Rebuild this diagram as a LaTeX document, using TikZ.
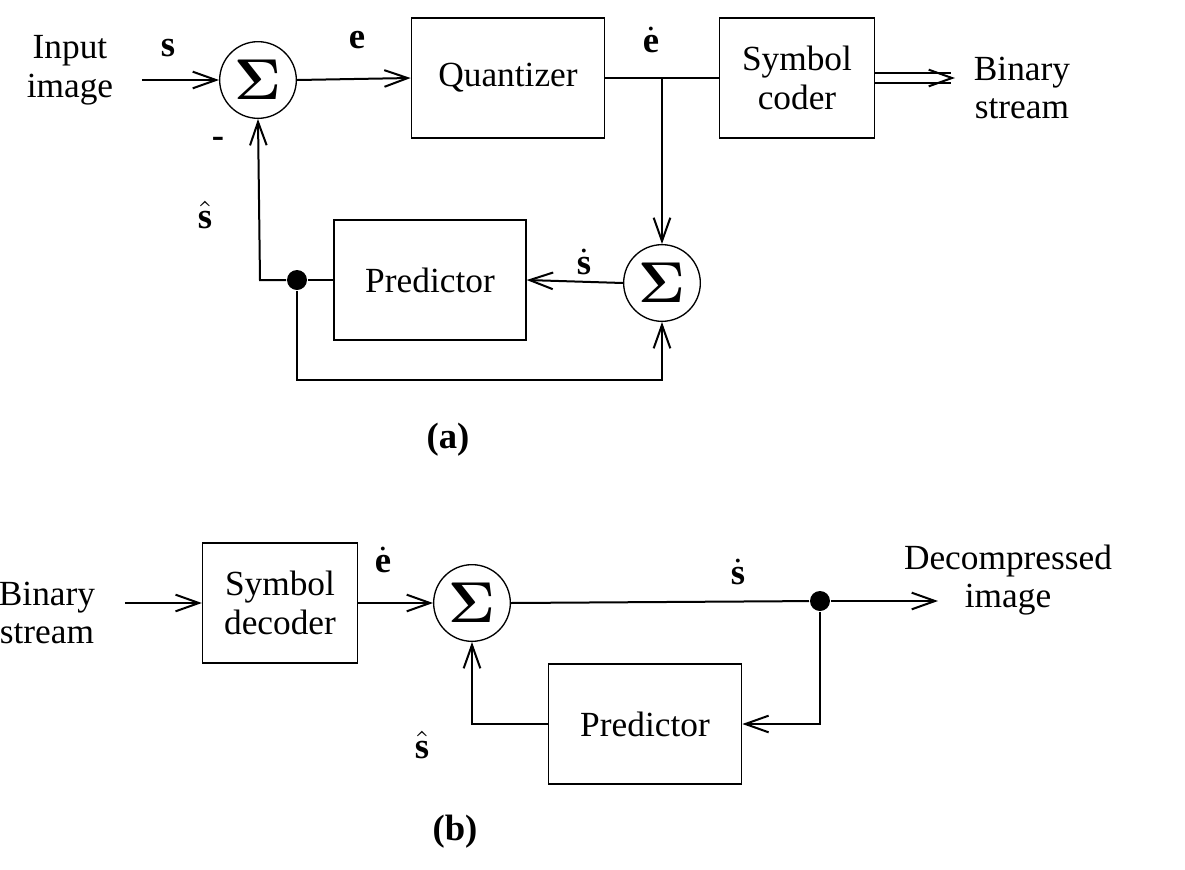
\documentclass[tikz,border=0pt]{standalone}
\usepackage{bm}
\usepackage{fontspec}
\setmainfont{Liberation Serif}
\usetikzlibrary{arrows.meta}
\tikzset{
  every node/.style = {font = \fontsize{10.6}{11.6}\selectfont},
  >={Straight Barb[length=7pt,width=5pt]},
  block/.style = {draw, thin, minimum height=36pt, align=center, inner sep=0pt},
  summer/.style = {draw, thin, circle, minimum size=23pt, inner sep=0pt,
                   font=\fontsize{16}{16}\selectfont},
  dot/.style = {circle, fill, minimum size=6pt, inner sep=0pt},
  sig/.style = {font=\fontsize{11}{12}\selectfont\bfseries}
}
\begin{document}
\begin{tikzpicture}[x=0.3pt, y=-0.3pt, line width=0.6pt]
  \useasboundingbox (0,0) rectangle (1185,870);

  % (a) encoder
  \node[align=center] (in) at (70,70) {Input\\image};
  \node[summer] (sum1) at (258,80) {$\bm{\Sigma}$};
  \node[block, minimum width=58pt] (quant) at (508,78) {Quantizer};
  \node[block, minimum width=46.5pt] (coder) at (797,78) {Symbol\\coder};
  \node[align=center] (bsout) at (1022,88) {Binary\\stream};
  \node[summer] (sum2) at (662,283) {$\bm{\Sigma}$};
  \node[block, minimum width=57.6pt] (pred1) at (430,280) {Predictor};
  \node[dot] (d1) at (297,280) {};
  \coordinate (c1) at (142,80);
  \coordinate (c2) at (662,78);
  \coordinate (c3) at (955,78);

  \draw[->] (c1) -- (sum1.west);
  \draw[->] (sum1.east) -- (quant.west);
  \draw (quant.east) -- (coder.west);
  \draw[->] (c2) -- (sum2.north);
  \draw[double, double distance=2.5pt, ->] (coder.east) -- (c3);
  \draw[->] (sum2.west) -- (pred1.east);
  \draw (pred1.west) -- (d1);
  \draw[->] (d1) -- (260,280) -- (sum1.south);
  \draw[->] (d1) -- (297,380) -- (662,380) -- (sum2.south);

  \node[sig] (ls) at (168,48) {s};
  \node[sig] (le) at (357,40) {e};
  \node[sig] (led) at (651,40) {$\dot{\textbf{e}}$};
  \node[sig] (lsd) at (584,262) {$\dot{\textbf{s}}$};
  \node[sig] (lsh) at (205,215) {$\hat{\textbf{s}}$};
  \node[sig] (lm) at (218,142) {-};
  \node[sig] (la) at (448,440) {(a)};

  % (b) decoder
  \node[align=center] (bsin) at (47,613) {Binary\\stream};
  \node[block, minimum width=46.5pt] (decoder) at (280,603) {Symbol\\decoder};
  \node[summer] (sum3) at (472,603) {$\bm{\Sigma}$};
  \node[dot] (d2) at (820,601) {};
  \node[align=center] (out) at (1008,580) {Decompressed\\image};
  \node[block, minimum width=58pt] (pred2) at (645,724) {Predictor};
  \coordinate (c4) at (125,603);
  \coordinate (c5) at (938,601);

  \draw[->] (c4) -- (decoder.west);
  \draw[->] (decoder.east) -- (sum3.west);
  \draw (sum3.east) -- (d2);
  \draw[->] (d2) -- (c5);
  \draw[->] (d2) -- (820,724) -- (pred2.east);
  \draw[->] (pred2.west) -- (472,724) -- (sum3.south);

  \node[sig] (led2) at (383,560) {$\dot{\textbf{e}}$};
  \node[sig] (lsd2) at (738,572) {$\dot{\textbf{s}}$};
  \node[sig] (lsh2) at (422,745) {$\hat{\textbf{s}}$};
  \node[sig] (lb) at (455,832) {(b)};
\end{tikzpicture}
\end{document}
